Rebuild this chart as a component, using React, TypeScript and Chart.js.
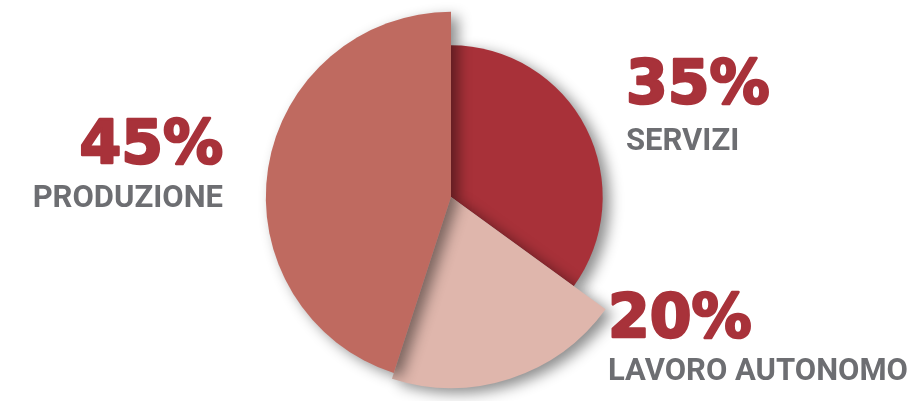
import React, { useEffect, useRef } from "react";
import { Chart, registerables } from "chart.js";

Chart.register(...registerables);

// ---- data ----
const categories = ["SERVIZI", "LAVORO AUTONOMO", "PRODUZIONE"];
const shares = [35, 20, 45];

// ---- styling ----
const sliceColors = ["#a83139", "#dfb6ac", "#bf6a60"];
const radiusScale = [0.77, 0.97, 0.94];
const pctColor = "#a8323a";
const catColor = "#6d6e72";
// label layout: [x, pctBaseline, catBaseline, align, catMaxWidth]
const labelLayout: [number, number, number, CanvasTextAlign, number][] = [
  [625, 103, 150, "left", 114],
  [607, 337, 380, "left", 300],
  [224, 163, 207, "right", 195],
];

const sliceRadiusPlugin = {
  id: "sliceRadius",
  afterDatasetsUpdate(chart: any) {
    const meta = chart.getDatasetMeta(0);
    const base = meta.controller.outerRadius;
    meta.data.forEach((arc: any, i: number) => {
      arc.outerRadius = base * radiusScale[i];
    });
  },
};

const shadowPlugin = {
  id: "sliceShadow",
  beforeDatasetsDraw(chart: any) {
    const ctx = chart.ctx;
    ctx.save();
    ctx.shadowColor = "rgba(0,0,0,0.45)";
    ctx.shadowBlur = 14;
    ctx.shadowOffsetX = 7;
    ctx.shadowOffsetY = 5;
  },
  afterDatasetsDraw(chart: any) {
    chart.ctx.restore();
  },
};

const labelsPlugin = {
  id: "sliceLabels",
  afterDraw(chart: any) {
    const ctx = chart.ctx;
    ctx.save();
    categories.forEach((cat, i) => {
      const [x, py, cy, align, maxW] = labelLayout[i];
      ctx.textAlign = align;
      ctx.textBaseline = "alphabetic";
      ctx.fillStyle = pctColor;
      ctx.strokeStyle = pctColor;
      ctx.lineWidth = 2.5;
      ctx.lineJoin = "round";
      ctx.font = "bold 60px 'DejaVu Sans'";
      const px = align === "left" ? x + 1 : x - 1;
      ctx.fillText(`${shares[i]}%`, px, py);
      ctx.strokeText(`${shares[i]}%`, px, py);
      ctx.fillStyle = catColor;
      ctx.font = "bold 31px Roboto";
      ctx.fillText(cat, x + (align === "left" ? 1 : -1), cy, maxW);
    });
    ctx.restore();
  },
};

export default function App() {
  const ref = useRef<HTMLCanvasElement>(null);
  useEffect(() => {
    document.body.style.margin = "0";
    const chart = new Chart(ref.current!, {
      type: "pie",
      data: {
        labels: categories,
        datasets: [
          {
            data: shares,
            backgroundColor: sliceColors,
            borderWidth: 0,
          },
        ],
      },
      options: {
        animation: false,
        responsive: true,
        maintainAspectRatio: false,
        layout: { padding: { left: 254, right: 264, top: 0, bottom: 7 } },
        plugins: { legend: { display: false }, tooltip: { enabled: false } },
      },
      plugins: [sliceRadiusPlugin, shadowPlugin, labelsPlugin],
    });
    return () => chart.destroy();
  }, []);
  return (
    <div style={{ position: "absolute", left: 0, top: 0, width: 912, height: 401, background: "#fff" }}>
      <canvas ref={ref} />
    </div>
  );
}
